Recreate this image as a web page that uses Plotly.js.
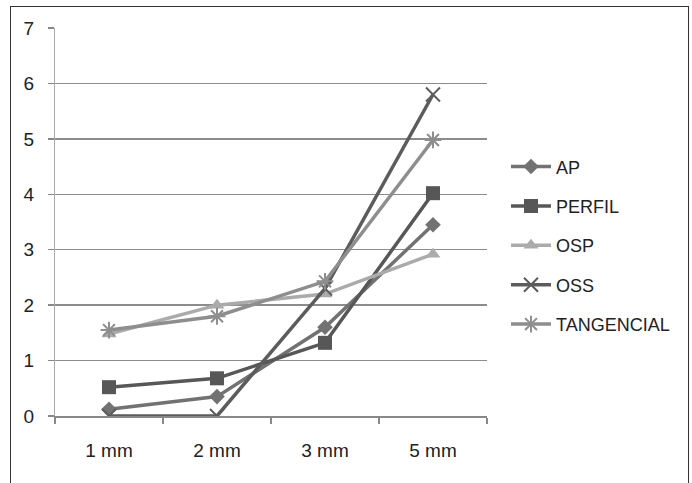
<!DOCTYPE html>
<html>
<head>
<meta charset="utf-8">
<script src="https://cdn.plot.ly/plotly-3.0.1.min.js"></script>
<style>
  html, body { margin: 0; padding: 0; background: #fff; }
  #wrap { position: relative; width: 692px; height: 483px; overflow: hidden; }
  #chart { width: 692px; height: 483px; }
  #frame { position: absolute; left: 10px; top: 6px; width: 677px; height: 500px;
           border: 1.5px solid #333; pointer-events: none; }
</style>
</head>
<body>
<div id="wrap">
  <div id="chart"></div>
  <div id="frame"></div>
</div>
<script>
const categories = ["1 mm", "2 mm", "3 mm", "5 mm"];
const seriesNames = ["AP", "PERFIL", "OSP", "OSS", "TANGENCIAL"];
const apValues = [0.12, 0.35, 1.6, 3.45];
const perfilValues = [0.52, 0.68, 1.32, 4.02];
const ospValues = [1.48, 2.0, 2.2, 2.92];
const ossValues = [0, 0, 2.3, 5.8];
const tangencialValues = [1.55, 1.8, 2.43, 4.98];
const yTickValues = [0, 1, 2, 3, 4, 5, 6, 7];

const seriesValues = [apValues, perfilValues, ospValues, ossValues, tangencialValues];
const colors = ["#727272", "#575757", "#ababab", "#5c5c5c", "#8e8e8e"];
const symbols = ["diamond", "square", "triangle-up", "x-thin-open", "asterisk-open"];
const sizes = [12, 14, 13, 14, 14];

const traces = seriesNames.map((name, i) => ({
  type: "scatter",
  mode: "lines+markers",
  name: name,
  legendgroup: name,
  x: categories,
  y: seriesValues[i],
  line: { color: colors[i], width: 3.5 },
  marker: { symbol: symbols[i], size: sizes[i], color: colors[i],
            line: { color: colors[i], width: (i >= 3 ? 2 : 0) } }
}));

const fontFam = "Liberation Sans, Arial, sans-serif";

const layout = {
  width: 692, height: 483,
  margin: { l: 55, r: 205, t: 28, b: 67 },
  paper_bgcolor: "#fff", plot_bgcolor: "#fff",
  font: { family: fontFam, size: 18, color: "#222" },
  showlegend: true,
  legend: {
    x: 1.044, y: 0.69, xanchor: "left", yanchor: "top",
    traceorder: "grouped", tracegroupgap: 13,
    itemwidth: 40,
    font: { family: fontFam, size: 18, color: "#222" },
    bgcolor: "rgba(0,0,0,0)"
  },
  xaxis: {
    type: "category",
    range: [-0.5, 3.5],
    tickson: "boundaries",
    ticks: "outside", ticklen: 6, tickcolor: "#888", tickwidth: 1.5,
    showline: true, linecolor: "#888", linewidth: 1.5,
    showgrid: false, zeroline: false,
    ticklabelstandoff: 17,
    tickfont: { family: fontFam, size: 19, color: "#222" },
    fixedrange: true
  },
  yaxis: {
    range: [0, 7],
    tickvals: yTickValues,
    ticktext: yTickValues.map(String),
    ticks: "outside", ticklen: 6, tickcolor: "#888", tickwidth: 1.5,
    showline: true, linecolor: "#aaa", linewidth: 1.2,
    showgrid: true, gridcolor: "#8c8c8c", gridwidth: 1.5,
    zeroline: false,
    ticklabelstandoff: 10,
    tickfont: { family: fontFam, size: 19, color: "#222" },
    fixedrange: true
  }
};

Plotly.newPlot("chart", traces, layout, { displayModeBar: false, staticPlot: true });
</script>
</body>
</html>
